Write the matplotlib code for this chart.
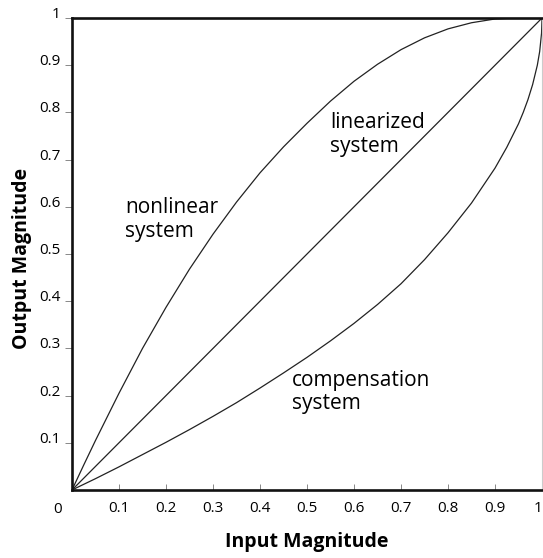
import matplotlib
matplotlib.use("Agg")

import matplotlib.pyplot as plt

plt.rcParams["font.family"] = ["Open Sans", "DejaVu Sans"]

# curve points
nonlinear_x = [0, 0.025, 0.05, 0.1, 0.15, 0.2, 0.25, 0.3, 0.35, 0.4, 0.45, 0.5,
               0.55, 0.6, 0.65, 0.7, 0.75, 0.8, 0.85, 0.9, 0.94]
nonlinear_y = [0, 0.053, 0.105, 0.205, 0.3, 0.387, 0.468, 0.542, 0.61, 0.672, 0.727, 0.777,
               0.824, 0.866, 0.902, 0.933, 0.958, 0.977, 0.99, 0.998, 1.0]

linear_x = [0, 1]
linear_y = [0, 1]

comp_x = [0, 0.05, 0.1, 0.15, 0.2, 0.25, 0.3, 0.35, 0.4, 0.45, 0.5, 0.55,
          0.6, 0.65, 0.7, 0.75, 0.8, 0.85, 0.9, 0.925, 0.95, 0.96, 0.97, 0.98,
          0.99, 0.995, 0.999, 1.0]
comp_y = [0, 0.024, 0.049, 0.075, 0.101, 0.128, 0.156, 0.185, 0.216, 0.248, 0.281, 0.316,
          0.353, 0.393, 0.437, 0.488, 0.545, 0.608, 0.682, 0.726, 0.776, 0.8, 0.827, 0.859,
          0.9, 0.929, 0.968, 1.0]

tick_vals = [0.1, 0.2, 0.3, 0.4, 0.5, 0.6, 0.7, 0.8, 0.9, 1.0]
tick_labels = ["0.1", "0.2", "0.3", "0.4", "0.5", "0.6", "0.7", "0.8", "0.9", "1"]

fig = plt.figure(figsize=(5.43, 5.58), dpi=100)
ax = fig.add_axes([0.1326, 0.1219, 0.8656, 0.8458])

line_kw = dict(color="#222222", lw=0.9)
ax.plot(nonlinear_x, nonlinear_y, **line_kw)
ax.plot(linear_x, linear_y, **line_kw)
ax.plot(comp_x, comp_y, **line_kw)

ax.set_xlim(0, 1)
ax.set_ylim(0, 1)

for side in ["left", "bottom", "top"]:
    ax.spines[side].set_linewidth(1.9)
    ax.spines[side].set_color("#111111")
ax.spines["right"].set_linewidth(0.8)
ax.spines["right"].set_color("#cccccc")

ax.set_xticks(tick_vals)
ax.set_xticklabels(tick_labels, fontsize=11)
ax.set_yticks(tick_vals)
ax.set_yticklabels(tick_labels, fontsize=11)
ax.tick_params(axis="x", direction="in", length=4, width=0.7, color="#888888", pad=8)
ax.tick_params(axis="y", direction="out", length=5, width=0.7, color="#888888", pad=3)
for lab in ax.get_yticklabels():
    lab.set_verticalalignment("baseline")
# last x label sits at the figure edge, keep it inside
ax.get_xticklabels()[-1].set_horizontalalignment("right")

ax.text(-0.03, -0.025, "0", fontsize=11, ha="center", va="top")

ax.set_xlabel("Input Magnitude", fontsize=14, fontweight="bold")
ax.xaxis.set_label_coords(0.5, -0.088)
ax.set_ylabel("Output Magnitude", fontsize=14, fontweight="bold")
ax.yaxis.set_label_coords(-0.085, 0.49)

ax.text(0.113, 0.62, "nonlinear\nsystem", fontsize=15, va="top", ha="left", linespacing=1.15)
ax.text(0.549, 0.80, "linearized\nsystem", fontsize=15, va="top", ha="left", linespacing=1.15)
ax.text(0.468, 0.255, "compensation\nsystem", fontsize=15, va="top", ha="left", linespacing=1.15)

fig.savefig("out.png", dpi=100)
